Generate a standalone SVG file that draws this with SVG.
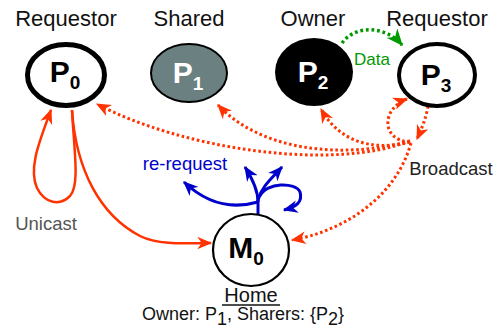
<svg xmlns="http://www.w3.org/2000/svg" width="500" height="330" viewBox="0 0 500 330">
<style>
text{font-family:"Liberation Sans",Arial,sans-serif}
.lbl{font-size:22px;fill:#111;text-anchor:middle}
.pn{font-size:30px;font-weight:bold;text-anchor:middle}
.sub{font-size:19px}
.red{fill:none;stroke:#ff3300;stroke-width:2.5}
.dot{fill:none;stroke:#ff3300;stroke-width:3;stroke-dasharray:2.6 2.6}
.blue{fill:none;stroke:#0000cc;stroke-width:3}
.green{fill:none;stroke:#009900;stroke-width:3.5;stroke-dasharray:2.8 2.8}
</style>
<defs>
<marker id="ar" viewBox="0 0 12 10" refX="11" refY="5" markerWidth="15" markerHeight="13" markerUnits="userSpaceOnUse" orient="auto"><path d="M0,0 L12,5 L0,10 L3.5,5 z" fill="#ff3300"/></marker>
<marker id="ab" viewBox="0 0 12 10" refX="11" refY="5" markerWidth="15" markerHeight="13" markerUnits="userSpaceOnUse" orient="auto"><path d="M0,0 L12,5 L0,10 L3.5,5 z" fill="#0000cc"/></marker>
<marker id="ag" viewBox="0 0 12 10" refX="11" refY="5" markerWidth="17" markerHeight="15" markerUnits="userSpaceOnUse" orient="auto"><path d="M0,0 L12,5 L0,10 L3.5,5 z" fill="#009900"/></marker>
</defs>

<g id="connectors">
  <!-- unicast -->
  <path class="red" d="M72,110 C74,150 80,185 70,196 C60,206 45,204 37,188 C28,168 40,140 51,110" marker-end="url(#ar)"/>
  <path class="red" d="M72,110 C76,170 100,215 140,236 C160,246 190,243 211,243" marker-end="url(#ar)"/>
  <!-- broadcast -->
  <path class="dot" d="M428,106 C426,118 422,128 417,139" marker-end="url(#ar)"/>
  <path class="dot" d="M410,141 C330,172 180,148 97,104" marker-end="url(#ar)"/>
  <path class="dot" d="M410,141 C340,160 260,150 218,105" marker-end="url(#ar)"/>
  <path class="dot" d="M410,142 C370,152 338,140 321,109" marker-end="url(#ar)"/>
  <path class="dot" d="M410,142 C380,140 382,108 407,99" marker-end="url(#ar)"/>
  <path class="dot" d="M411,143 C395,200 340,232 292,240" marker-end="url(#ar)"/>
  <!-- data -->
  <path class="green" d="M342,43 C355,25 385,25 402,45" marker-end="url(#ag)"/>
  <!-- re-request -->
  <path class="blue" d="M258,214 L258,200"/>
  <path class="blue" d="M258,202 C230,210 205,202 184,182" marker-end="url(#ab)"/>
  <path class="blue" d="M258,202 C258,190 252,178 245,167" marker-end="url(#ab)"/>
  <path class="blue" d="M258,200 C262,186 272,178 282,167" marker-end="url(#ab)"/>
  <path class="blue" d="M260,196 C266,182 296,182 300,192 C303,202 296,207 284,210" marker-end="url(#ab)"/>
</g>

<g id="P0">
  <text class="lbl" x="66" y="26">Requestor</text>
  <ellipse cx="66" cy="75" rx="38.5" ry="30.5" fill="#fff" stroke="#000" stroke-width="5"/>
  <text class="pn" x="65" y="82">P<tspan class="sub" dy="7">0</tspan></text>
</g>
<g id="P1">
  <text class="lbl" x="189" y="26">Shared</text>
  <ellipse cx="189" cy="73" rx="38" ry="29" fill="#6b8080" stroke="#000" stroke-width="2"/>
  <text class="pn" x="188" y="83" fill="#fff">P<tspan class="sub" dy="7">1</tspan></text>
</g>
<g id="P2">
  <text class="lbl" x="313" y="26">Owner</text>
  <ellipse cx="314" cy="72" rx="39" ry="34" fill="#000"/>
  <text class="pn" x="313" y="82" fill="#fff">P<tspan class="sub" dy="7">2</tspan></text>
</g>
<g id="P3">
  <text class="lbl" x="437" y="26">Requestor</text>
  <ellipse cx="437" cy="75" rx="38" ry="31" fill="#fff" stroke="#000" stroke-width="4"/>
  <text class="pn" x="436" y="85">P<tspan class="sub" dy="7">3</tspan></text>
</g>
<g id="M0">
  <ellipse cx="251" cy="250" rx="38" ry="36" fill="#fff" stroke="#000" stroke-width="2.2"/>
  <text class="pn" x="246" y="258">M<tspan class="sub" dy="7">0</tspan></text>
  <text x="251" y="302" font-size="20" text-anchor="middle" fill="#111">Home</text>
  <line x1="222" y1="305" x2="280" y2="305" stroke="#111" stroke-width="1.5"/>
  <text x="243" y="320" font-size="18" text-anchor="middle" fill="#111">Owner: P<tspan dy="5">1</tspan><tspan dy="-5">, Sharers: {P</tspan><tspan dy="5">2</tspan><tspan dy="-5">}</tspan></text>
</g>

<g id="labels">
  <text x="372" y="65" font-size="17" text-anchor="middle" fill="#009900">Data</text>
  <text x="451" y="175" font-size="18.5" text-anchor="middle" fill="#222">Broadcast</text>
  <text x="46" y="230" font-size="18.5" text-anchor="middle" fill="#555">Unicast</text>
  <text x="185" y="170" font-size="18.5" text-anchor="middle" fill="#0000cc">re-request</text>
</g>
</svg>
